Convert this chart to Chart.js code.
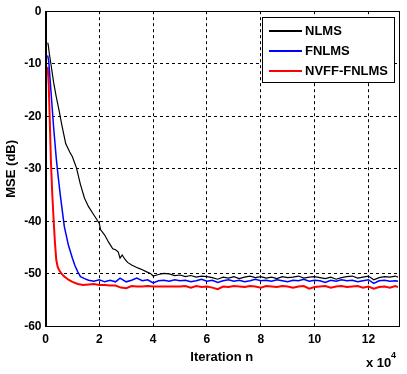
<!DOCTYPE html>
<html>
<head>
<meta charset="utf-8">
<script src="https://cdn.jsdelivr.net/npm/chart.js@4.4.1/dist/chart.umd.min.js"></script>
<style>
  html, body { margin: 0; padding: 0; background: #fff; }
  #wrap { width: 407px; height: 374px; position: relative; }
</style>
</head>
<body>
<div id="wrap"><canvas id="mseChart"></canvas></div>
<script>
// Data (iteration in units of 1e4, MSE in dB)
const seriesNames = ['NLMS', 'FNLMS', 'NVFF-FNLMS'];
const xTicks = [0, 2, 4, 6, 8, 10, 12];
const yTicks = [0, -10, -20, -30, -40, -50, -60];

// common x positions after the transient
const steadyX = [4.2, 4.4, 4.6, 4.8, 5.0, 5.2, 5.4, 5.6, 5.8, 6.0, 6.2, 6.4, 6.6, 6.8, 7.0, 7.2, 7.4, 7.6, 7.8, 8.0,
  8.2, 8.4, 8.6, 8.8, 9.0, 9.2, 9.4, 9.6, 9.8, 10.0, 10.2, 10.4, 10.6, 10.8, 11.0, 11.2, 11.4, 11.6, 11.8, 12.0,
  12.2, 12.4, 12.6, 12.8, 13.0, 13.1];

const nlmsStartX = [0.08, 0.1, 0.14, 0.2, 0.3, 0.4, 0.5, 0.6, 0.75, 0.9, 1.0, 1.15, 1.3, 1.45, 1.6, 1.75, 1.9, 2.0, 2.05,
  2.2, 2.35, 2.5, 2.6, 2.7, 2.77, 2.85, 2.95, 3.05, 3.2, 3.45, 3.6, 3.76, 3.9, 4.0];
const nlmsStartY = [-6, -6.3, -8, -10, -13.5, -16.3, -18.8, -21.5, -25.2, -26.8, -27.7, -29.8, -33, -35.6, -37.2, -38.4,
  -39.6, -40.4, -41.6, -42.6, -44, -45.2, -45.4, -45.8, -47, -46.4, -47.2, -47.8, -48.3, -48.9, -49.2, -49.6, -49.9, -50.4];
const nlmsSteadyY = [-50.1, -49.9, -50.0, -50.3, -50.2, -50.5, -50.3, -50.6, -50.4, -50.5, -50.7, -51.0, -50.6, -50.8,
  -50.5, -50.9, -50.6, -50.4, -50.7, -50.5, -50.8, -50.6, -50.9, -50.5, -50.7, -50.6, -50.4, -50.8, -50.6, -50.5,
  -50.7, -50.9, -50.6, -51.0, -50.7, -50.5, -50.4, -50.8, -50.6, -50.4, -51.1, -50.7, -50.5, -50.6, -50.4, -50.6];

const fnlmsStartX = [0.08, 0.12, 0.2, 0.3, 0.4, 0.45, 0.55, 0.7, 0.85, 1.0, 1.1, 1.2, 1.3, 1.45, 1.6, 1.8, 2.0,
  2.2, 2.4, 2.6, 2.77, 3.0, 3.2, 3.39, 3.6, 3.8, 4.0];
const fnlmsStartY = [-8.4, -9.5, -15, -22, -28, -30.5, -35, -41, -44.5, -47, -48.5, -49.6, -50.5, -50.9, -51.2,
  -51.4, -51.1, -51.5, -51.2, -51.5, -50.8, -51.5, -51.2, -50.8, -51.3, -51.1, -51.7];
const fnlmsSteadyY = [-51.3, -51.2, -51.4, -51.1, -51.3, -51.2, -51.5, -51.3, -51.0, -51.4, -51.2, -51.6, -51.3,
  -51.1, -51.4, -51.2, -51.5, -51.3, -51.0, -51.3, -51.2, -51.4, -51.1, -51.3, -51.5, -51.2, -51.3, -51.0, -51.4,
  -51.2, -51.3, -51.6, -51.2, -51.4, -51.1, -51.3, -51.2, -51.5, -51.3, -51.1, -51.8, -51.3, -51.2, -51.4, -51.3, -51.4];

const nvffStartX = [0.08, 0.12, 0.16, 0.2, 0.25, 0.3, 0.35, 0.4, 0.45, 0.5, 0.6, 0.7, 0.85, 1.0, 1.2, 1.4, 1.6,
  1.8, 2.0, 2.2, 2.4, 2.6, 2.8, 3.0, 3.2, 3.4, 3.6, 3.8, 4.0];
const nvffStartY = [-10.6, -14, -21, -28.3, -34.7, -39.5, -44, -47.3, -48.6, -49.2, -50, -50.5, -51.1, -51.5, -51.9,
  -52.1, -52.0, -51.9, -52.1, -52.1, -52.2, -52.2, -52.6, -52.7, -52.3, -52.4, -52.4, -52.3, -52.4];
const nvffSteadyY = [-52.4, -52.4, -52.4, -52.4, -52.4, -52.3, -52.6, -52.3, -52.5, -52.4, -52.6, -52.9, -52.4,
  -52.5, -52.3, -52.4, -52.5, -52.3, -52.4, -52.6, -52.3, -52.4, -52.5, -52.3, -52.4, -52.6, -52.4, -52.3, -52.8,
  -52.5, -52.4, -52.3, -52.6, -52.4, -52.3, -52.5, -52.4, -52.3, -52.6, -52.4, -52.8, -52.5, -52.4, -52.6, -52.3, -52.5];

const lineColors = ['#000000', '#0000ff', '#ff0000'];
const lineWidths = [1.2, 1.5, 2];

function toPoints(xs, ys) {
  const n = Math.min(xs.length, ys.length);
  const pts = [];
  for (let i = 0; i < n; i++) pts.push({ x: xs[i], y: ys[i] });
  return pts;
}

const curves = [
  toPoints(nlmsStartX.concat(steadyX), nlmsStartY.concat(nlmsSteadyY)),
  toPoints(fnlmsStartX.concat(steadyX), fnlmsStartY.concat(fnlmsSteadyY)),
  toPoints(nvffStartX.concat(steadyX), nvffStartY.concat(nvffSteadyY))
];

const boldFont = { family: 'Arial, "Liberation Sans", sans-serif', size: 12, weight: 'bold' };

// box around the axes, legend, and the x10^4 exponent
const matlabDecor = {
  id: 'matlabDecor',
  afterDatasetsDraw(chart) {
    const { ctx, chartArea: a } = chart;
    ctx.save();
    ctx.strokeStyle = '#000';
    ctx.lineWidth = 1;
    ctx.strokeRect(Math.round(a.left) + 0.5, Math.round(a.top) + 0.5,
      Math.round(a.right - a.left), Math.round(a.bottom - a.top));
    ctx.restore();
  },
  afterDraw(chart) {
    const { ctx } = chart;
    ctx.save();
    // legend
    const lx = 262.5, ly = 17.5, lw = 132, lh = 65;
    ctx.fillStyle = '#fff';
    ctx.fillRect(lx, ly, lw, lh);
    ctx.strokeStyle = '#000';
    ctx.lineWidth = 1;
    ctx.strokeRect(lx, ly, lw, lh);
    ctx.font = 'bold 13px Arial, "Liberation Sans", sans-serif';
    ctx.textBaseline = 'middle';
    seriesNames.forEach((name, i) => {
      const y = 31 + i * 20;
      ctx.strokeStyle = lineColors[i];
      ctx.lineWidth = 2;
      ctx.beginPath();
      ctx.moveTo(269, y);
      ctx.lineTo(302, y);
      ctx.stroke();
      ctx.fillStyle = '#000';
      ctx.fillText(name, 305, y);
    });
    // exponent label
    ctx.fillStyle = '#000';
    ctx.textBaseline = 'alphabetic';
    ctx.font = 'bold 13px Arial, "Liberation Sans", sans-serif';
    ctx.fillText('x 10', 366, 367);
    ctx.font = 'bold 9px Arial, "Liberation Sans", sans-serif';
    ctx.fillText('4', 391, 358);
    ctx.restore();
  }
};

const ctx = document.getElementById('mseChart').getContext('2d');
const mseChart = new Chart(ctx, {
  type: 'line',
  data: {
    datasets: curves.map((pts, i) => ({
      label: seriesNames[i],
      data: pts,
      borderColor: lineColors[i],
      borderWidth: lineWidths[i],
      pointRadius: 0,
      tension: 0,
      fill: false
    }))
  },
  options: {
    responsive: true,
    maintainAspectRatio: false,
    animation: false,
    layout: { padding: { top: 11, right: 9, left: 0, bottom: 0 } },
    plugins: {
      legend: { display: false },
      tooltip: { enabled: false }
    },
    scales: {
      x: {
        type: 'linear',
        min: 0,
        max: 13.1,
        afterBuildTicks: (scale) => { scale.ticks = xTicks.map(v => ({ value: v })); },
        afterFit: (scale) => { scale.height = 47.5; },
        ticks: { color: '#000', font: boldFont, padding: 6, maxRotation: 0, autoSkip: false },
        grid: { color: '#000', lineWidth: 1, drawTicks: false },
        border: { display: true, color: '#000', width: 1, dash: [3, 3] },
        title: {
          display: true,
          text: 'Iteration n',
          color: '#000',
          font: { family: boldFont.family, size: 13, weight: 'bold' },
          padding: { top: 0, bottom: 9 }
        }
      },
      y: {
        min: -60,
        max: 0,
        afterBuildTicks: (scale) => { scale.ticks = yTicks.map(v => ({ value: v })); },
        afterFit: (scale) => { scale.width = 45.5; },
        ticks: { color: '#000', font: boldFont, padding: 4 },
        grid: { color: '#000', lineWidth: 1, drawTicks: false },
        border: { display: true, color: '#000', width: 1, dash: [3, 3] },
        title: {
          display: true,
          text: 'MSE (dB)',
          color: '#000',
          font: { family: boldFont.family, size: 13, weight: 'bold' },
          padding: { top: 4, bottom: 0 }
        }
      }
    }
  },
  plugins: [matlabDecor]
});
</script>
</body>
</html>
